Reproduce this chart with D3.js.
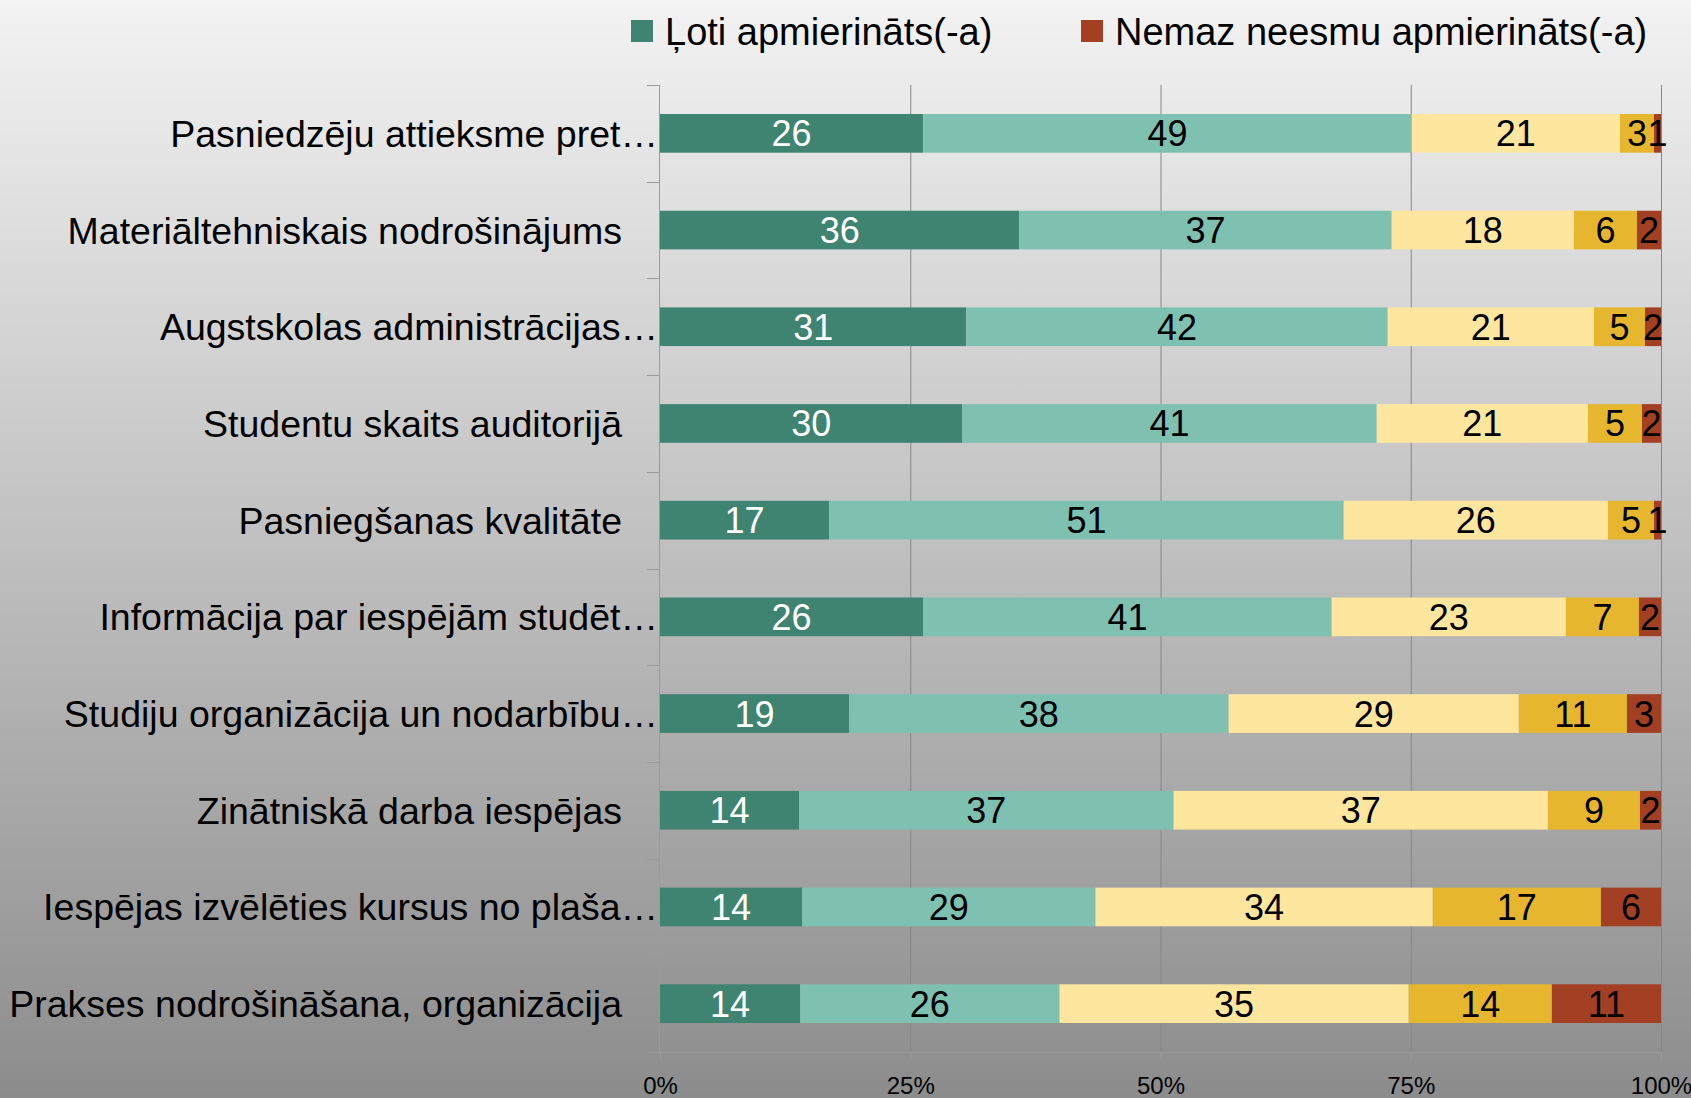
<!DOCTYPE html>
<html>
<head>
<meta charset="utf-8">
<script src="https://cdn.jsdelivr.net/npm/d3@7"></script>
<style>
  html, body { margin: 0; padding: 0; }
  body { width: 1691px; height: 1098px; overflow: hidden; }
  svg text { font-family: "Liberation Sans", Arial, sans-serif; }
</style>
</head>
<body>
<div id="chart"></div>
<script>
// data
const categories = [
  "Pasniedzēju attieksme pret…",
  "Materiāltehniskais nodrošinājums",
  "Augstskolas administrācijas…",
  "Studentu skaits auditorijā",
  "Pasniegšanas kvalitāte",
  "Informācija par iespējām studēt…",
  "Studiju organizācija un nodarbību…",
  "Zinātniskā darba iespējas",
  "Iespējas izvēlēties kursus no plaša…",
  "Prakses nodrošināšana, organizācija"
];

// only first and last series are named in the legend
const seriesNames = ["Ļoti apmierināts(-a)", "", "", "", "Nemaz neesmu apmierināts(-a)"];
const seriesColors = ["#3f8371", "#7fc1b0", "#ffe69f", "#e6b72e", "#a33f22"];
const labelColors = ["#ffffff", "#000000", "#000000", "#000000", "#000000"];

const series1 = [26.3, 35.9, 30.6, 30.2, 16.9, 26.3, 18.9, 13.9, 14.2, 14.0];
const series2 = [48.8, 37.2, 42.1, 41.4, 51.4, 40.8, 37.9, 37.4, 29.3, 25.9];
const series3 = [20.8, 18.2, 20.6, 21.1, 26.4, 23.4, 29.0, 37.4, 33.7, 34.9];
const series4 = [3.4, 6.3, 5.1, 5.4, 4.6, 7.3, 10.8, 9.2, 16.8, 14.3];
const series5 = [0.7, 2.4, 1.6, 1.9, 0.7, 2.2, 3.4, 2.1, 6.0, 10.9];

const xTicks = [0, 0.25, 0.5, 0.75, 1];

const W = 1691, H = 1098;
const margin = { left: 660, right: 1661, top: 85, bottom: 1052 };

const allSeries = [series1, series2, series3, series4, series5];
const keys = ["s1", "s2", "s3", "s4", "s5"];
const rows = categories.map((c, i) => {
    const r = { cat: c };
    keys.forEach((k, j) => r[k] = allSeries[j][i]);
    return r;
});

const stacked = d3.stack().keys(keys).offset(d3.stackOffsetExpand)(rows);

const svg = d3.select("#chart").append("svg")
    .attr("width", W)
    .attr("height", H);

// background gradient
const grad = svg.append("defs").append("linearGradient")
    .attr("id", "bg")
    .attr("x1", 0).attr("y1", 0).attr("x2", 0).attr("y2", 1);
grad.append("stop").attr("offset", "0%").attr("stop-color", "#f3f3f3");
grad.append("stop").attr("offset", "100%").attr("stop-color", "#8c8c8c");
svg.append("rect").attr("width", W).attr("height", H).attr("fill", "url(#bg)");

const x = d3.scaleLinear().domain([0, 1]).range([margin.left, margin.right]);
const y = d3.scaleBand()
    .domain(categories)
    .range([margin.top, margin.bottom])
    .paddingInner(0.6)
    .paddingOuter(0.3);

// vertical gridlines
svg.append("g")
    .selectAll("line")
    .data(xTicks.slice(1))
    .enter()
    .append("line")
    .attr("x1", d => x(d) + 0.5).attr("x2", d => x(d) + 0.5)
    .attr("y1", margin.top).attr("y2", margin.bottom)
    .attr("stroke", "#868686")
    .attr("stroke-width", 1);

// bars
const layer = svg.append("g")
    .selectAll("g")
    .data(stacked)
    .enter()
    .append("g")
    .attr("fill", (d, i) => seriesColors[i]);

layer.selectAll("rect")
    .data(d => d)
    .enter()
    .append("rect")
    .attr("x", d => x(d[0]))
    .attr("width", d => x(d[1]) - x(d[0]))
    .attr("y", d => y(d.data.cat))
    .attr("height", y.bandwidth());

// data labels
stacked.forEach((s, i) => {
    svg.append("g")
        .selectAll("text")
        .data(s)
        .enter()
        .append("text")
        .attr("x", d => (x(d[0]) + x(d[1])) / 2)
        .attr("y", d => y(d.data.cat) + y.bandwidth() / 2)
        .attr("dy", "0.36em")
        .attr("text-anchor", "middle")
        .attr("fill", labelColors[i])
        .style("font-size", "36px")
        .text(d => Math.round(d.data[s.key]));
});

// left axis (category ticks between bands)
const axisCol = "#9a9a9a";
svg.append("line")
    .attr("x1", margin.left - 0.5).attr("x2", margin.left - 0.5)
    .attr("y1", margin.top).attr("y2", margin.bottom)
    .attr("stroke", axisCol);
const bounds = d3.range(categories.length + 1).map(i => margin.top + i * y.step());
svg.append("g")
    .selectAll("line")
    .data(bounds)
    .enter()
    .append("line")
    .attr("x1", margin.left - 13).attr("x2", margin.left)
    .attr("y1", d => Math.round(d) + 0.5).attr("y2", d => Math.round(d) + 0.5)
    .attr("stroke", axisCol);

// category labels
svg.append("g")
    .selectAll("text")
    .data(categories)
    .enter()
    .append("text")
    .attr("x", d => d.endsWith("…") ? margin.left - 2 : margin.left - 38)
    .attr("y", d => y(d) + y.bandwidth() / 2)
    .attr("dy", "0.36em")
    .attr("text-anchor", "end")
    .attr("fill", "#000")
    .style("font-size", "37.5px")
    .text(d => d);

// bottom axis
svg.append("line")
    .attr("x1", margin.left - 13).attr("x2", margin.right)
    .attr("y1", margin.bottom + 0.5).attr("y2", margin.bottom + 0.5)
    .attr("stroke", axisCol);
const xAxis = svg.append("g")
    .attr("transform", `translate(0,${margin.bottom})`)
    .call(d3.axisBottom(x).tickValues(xTicks).tickFormat(d3.format(".0%")).tickSizeInner(9).tickSizeOuter(0).tickPadding(16));
xAxis.select(".domain").remove();
xAxis.selectAll(".tick line").attr("stroke", axisCol);
xAxis.selectAll(".tick text")
    .attr("fill", "#000")
    .style("font-size", "24px")
    .style("font-family", "Liberation Sans, Arial, sans-serif");

// legend
const legendItems = [
    { name: seriesNames[0], color: seriesColors[0], x: 631 },
    { name: seriesNames[4], color: seriesColors[4], x: 1081 }
];
const legend = svg.append("g")
    .selectAll("g")
    .data(legendItems)
    .enter()
    .append("g")
    .attr("transform", d => `translate(${d.x},20)`);
legend.append("rect")
    .attr("width", 22).attr("height", 22)
    .attr("fill", d => d.color);
legend.append("text")
    .attr("x", 34)
    .attr("y", 11)
    .attr("dy", "0.36em")
    .attr("fill", "#000")
    .style("font-size", "38px")
    .text(d => d.name);
</script>
</body>
</html>
